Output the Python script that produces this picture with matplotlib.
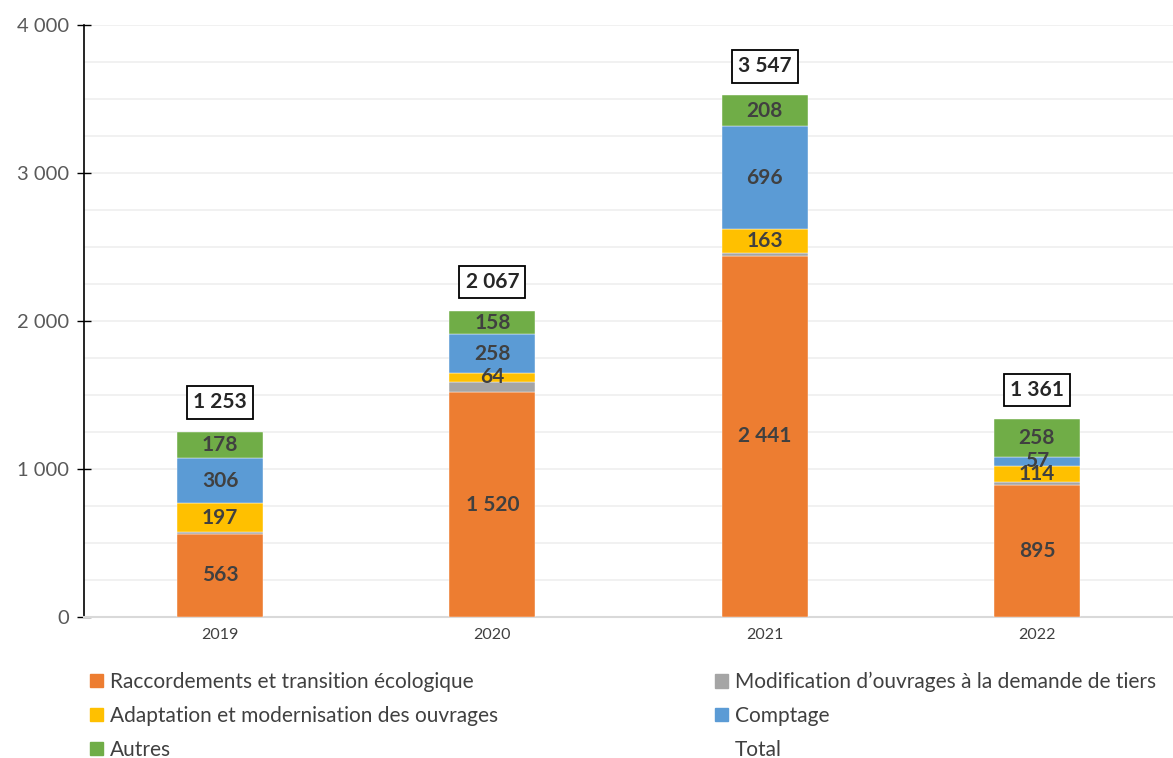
import matplotlib
matplotlib.use("Agg")
import matplotlib.pyplot as plt
from matplotlib.patches import Patch
from matplotlib.ticker import MultipleLocator, FuncFormatter
import numpy as np

plt.rcParams['font.family'] = ['Lato', 'DejaVu Sans']

years = ["2019", "2020", "2021", "2022"]
raccordements = [563, 1520, 2441, 895]
modification = [9, 67, 16, 14]
adaptation = [197, 64, 163, 114]
comptage = [306, 258, 696, 57]
autres = [178, 158, 208, 258]
totals = [1253, 2067, 3547, 1361]

series = [
    ("Raccordements et transition écologique", raccordements, "#ED7D31", True),
    ("Modification d\u2019ouvrages à la demande de tiers", modification, "#A5A5A5", False),
    ("Adaptation et modernisation des ouvrages", adaptation, "#FFC000", True),
    ("Comptage", comptage, "#5B9BD5", True),
    ("Autres", autres, "#70AD47", True),
]

def fmt(v):
    return f"{int(round(v)):,}".replace(",", " ")

fig = plt.figure(figsize=(11.73, 7.58), dpi=100)
ax = fig.add_axes([84/1173, 1-617/758, 1-84/1173, (617-25)/758])

x = np.arange(len(years))
bottom = np.zeros(len(years))
width = 0.316
handles = {}
for name, vals, col, show in series:
    vals = np.array(vals, dtype=float)
    ax.bar(x, vals, width, bottom=bottom, color=col, edgecolor="white", linewidth=0.3, zorder=3)
    handles[name] = Patch(facecolor=col, edgecolor=col)
    if show:
        for xi, bi, vi in zip(x, bottom, vals):
            ax.text(xi, bi + vi/2, fmt(vi), ha="center", va="center", fontsize=15,
                    fontweight="bold", color="#404040", zorder=5)
    bottom += vals

for xi, top, t in zip(x, bottom, totals):
    ax.annotate(fmt(t), xy=(xi, top), xytext=(0, 21), textcoords="offset points",
                ha="center", va="center", fontsize=15, fontweight="bold", color="#262626",
                bbox=dict(boxstyle="square,pad=0.3", facecolor="white", edgecolor="black", linewidth=1.3),
                zorder=6)

ax.set_xlim(-0.5, 3.5)
ax.set_ylim(0, 4000)
ax.yaxis.set_major_locator(MultipleLocator(1000))
ax.yaxis.set_minor_locator(MultipleLocator(250))
ax.yaxis.set_major_formatter(FuncFormatter(lambda v, p: fmt(v)))
ax.grid(axis="y", which="both", color="#EFEFEF", linewidth=1.2, zorder=0)
ax.set_axisbelow(True)
ax.set_xticks(x)
ax.set_xticklabels(years)
ax.tick_params(axis="x", length=0, labelsize=11.5, labelcolor="#404040", pad=8)
ax.tick_params(axis="y", which="major", direction="inout", length=10, width=1,
               labelsize=14.5, labelcolor="#595959", pad=6)
ax.tick_params(axis="y", which="minor", length=0)
for s in ["top", "right"]:
    ax.spines[s].set_visible(False)
ax.spines["left"].set_color("black")
ax.spines["left"].set_linewidth(1.2)
ax.spines["bottom"].set_color("#D9D9D9")
ax.spines["bottom"].set_linewidth(1.5)

col1 = ["Raccordements et transition écologique", "Adaptation et modernisation des ouvrages", "Autres"]
col2 = ["Modification d\u2019ouvrages à la demande de tiers", "Comptage"]
legkw = dict(frameon=False, fontsize=15, handlelength=0.6, handleheight=0.6,
             handletextpad=0.35, labelspacing=0.66, borderpad=0, borderaxespad=0,
             loc="upper left")
leg1 = fig.legend([handles[n] for n in col1], col1, bbox_to_anchor=(90/1173, 1-672/758), **legkw)
leg2 = fig.legend([handles[n] for n in col2] + [Patch(facecolor="none", edgecolor="none")],
                  col2 + ["Total"], bbox_to_anchor=(715/1173, 1-672/758), **legkw)
for lg in (leg1, leg2):
    for t in lg.get_texts():
        t.set_color("#404040")

fig.savefig("out.png", dpi=100)
